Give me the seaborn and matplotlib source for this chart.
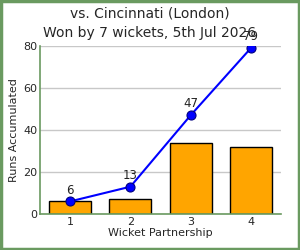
import matplotlib
matplotlib.use("Agg")
import matplotlib.pyplot as plt
import seaborn as sns
import pandas as pd

partnerships = ["1", "2", "3", "4"]
runs = [6, 7, 34, 32]
cumulative = [6, 13, 47, 79]
title = "vs. Cincinnati (London)\nWon by 7 wickets, 5th Jul 2026"

sns.set_theme(style="whitegrid")
plt.rcParams['font.family'] = ['DejaVu Sans']

df = pd.DataFrame({"p": partnerships, "runs": runs, "cum": cumulative})

fig = plt.figure(figsize=(3, 2.5), dpi=100)
ax = fig.add_axes([40/300, 36/250, 241/300, 168/250])

sns.barplot(data=df, x="p", y="runs", color="orange", edgecolor="black",
            linewidth=1, width=0.7, saturation=1, ax=ax)
ax.plot(range(len(cumulative)), cumulative, color="blue", marker="o",
        markersize=6.5, markeredgecolor="#000080", markeredgewidth=0.8,
        linewidth=1.5, zorder=5)
for i, v in enumerate(cumulative):
    ax.annotate(str(v), (i, v), textcoords="offset points", xytext=(0, 3.5),
                ha="center", va="bottom", fontsize=8.5, color="#222222")

ax.set_xlim(-0.5, 3.5)
ax.set_ylim(0, 80)
ax.set_yticks([0, 20, 40, 60, 80])
ax.set_xlabel("Wicket Partnership", fontsize=8, labelpad=1)
ax.set_ylabel("Runs Accumulated", fontsize=8, labelpad=3)
ax.tick_params(labelsize=8, pad=2, length=0)
ax.grid(axis="x", visible=False)
ax.grid(axis="y", color="#c8c8c8", linewidth=1)
ax.set_facecolor("white")
for s in ["top", "right"]:
    ax.spines[s].set_visible(False)
for s in ["left", "bottom"]:
    ax.spines[s].set_color("#6a9a60")
    ax.spines[s].set_linewidth(1.2)
fig.suptitle(title, fontsize=10, y=0.975, linespacing=1.55)

fig.patches.append(plt.Rectangle((0.003, 0.004), 0.994, 0.992, transform=fig.transFigure,
                                 fill=False, edgecolor="#6a9a60", linewidth=2.5))
fig.savefig("out.png", dpi=100)
